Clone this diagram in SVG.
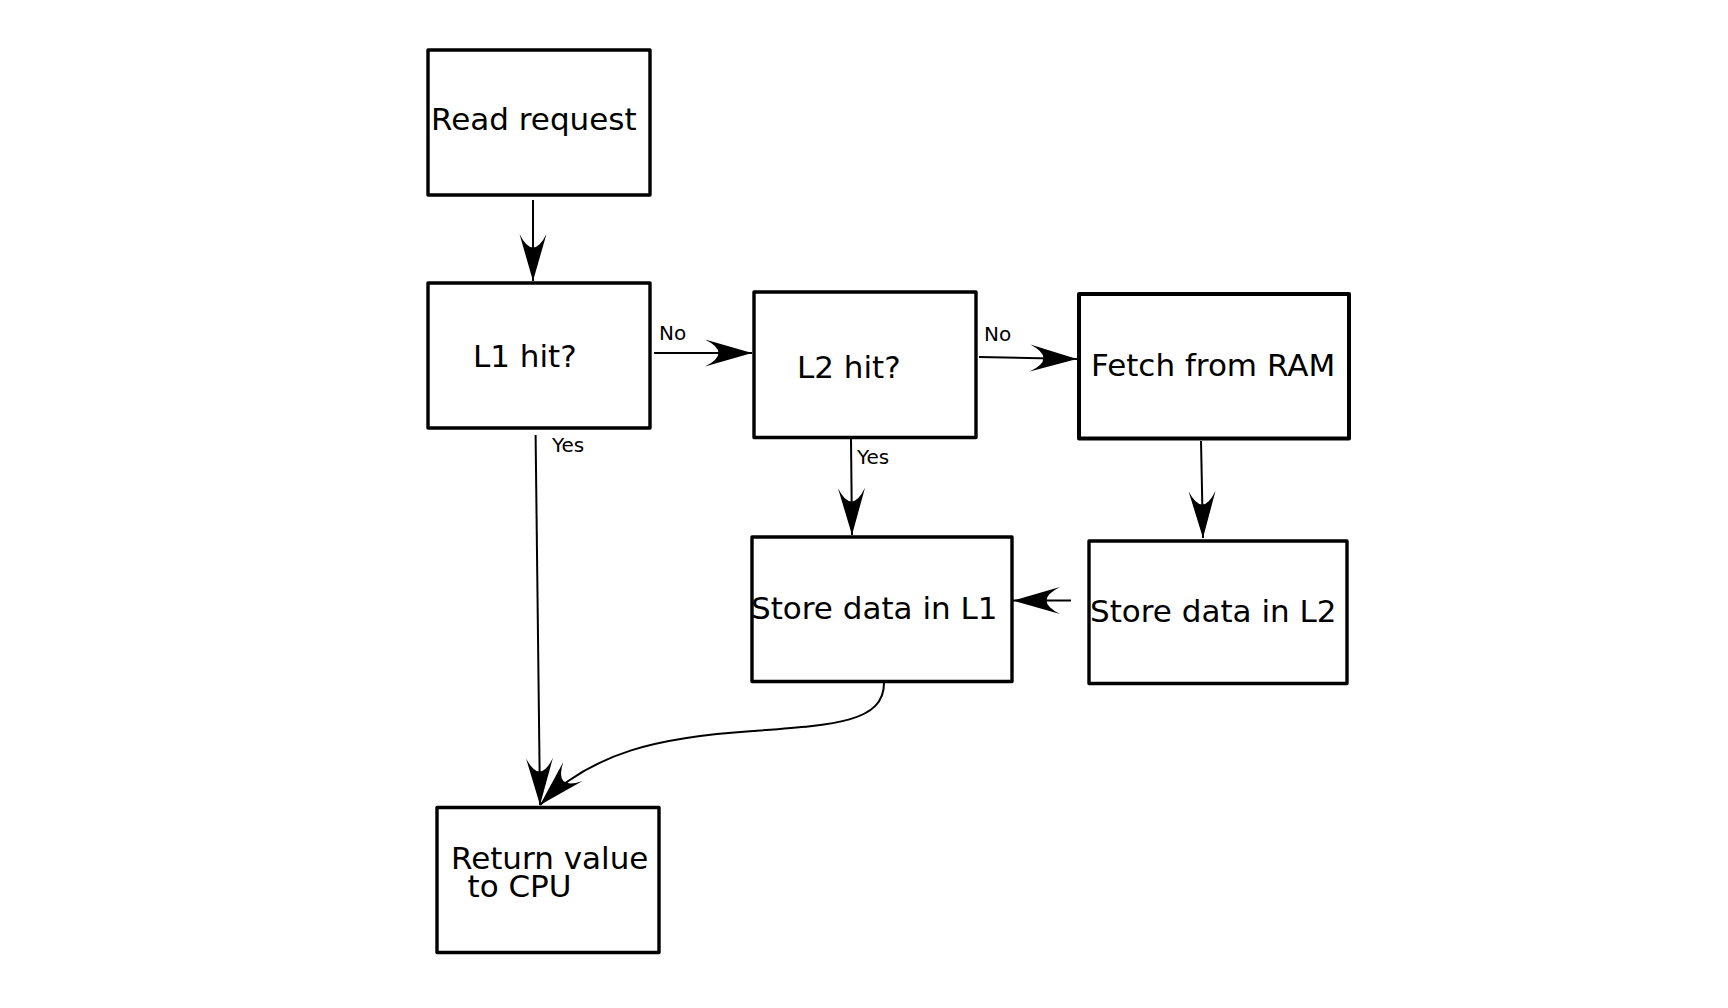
<svg xmlns="http://www.w3.org/2000/svg" width="1728" height="1008" viewBox="0 0 1728 1008">
<defs>
<style>
.box{fill:#fff;stroke:#000;stroke-width:3.4;stroke-linejoin:round}
.t{font-family:"DejaVu Sans","Liberation Sans",sans-serif;font-size:31px;fill:#000}
.s{font-family:"DejaVu Sans","Liberation Sans",sans-serif;font-size:20px;fill:#000}
.c{fill:none;stroke:#000;stroke-width:2}
</style>
<marker id="ah" markerUnits="userSpaceOnUse" viewBox="-50 -16 52 32" markerWidth="52" markerHeight="32" refX="0" refY="0" orient="auto">
<path d="M0,0 L-47,-13.5 Q-20,0 -47,13.5 Z" fill="#000"/>
</marker>
</defs>
<rect width="1728" height="1008" fill="#fff"/>
<g id="connectors">
<path class="c" d="M533,200 L533,281" marker-end="url(#ah)"/>
<path class="c" d="M654,353 L752,353" marker-end="url(#ah)"/>
<path class="c" d="M979,357 L1077,359" marker-end="url(#ah)"/>
<path class="c" d="M535.6,435 L540,805" marker-end="url(#ah)"/>
<path class="c" d="M851,439 L852,535" marker-end="url(#ah)"/>
<path class="c" d="M1201,441 L1203,538" marker-end="url(#ah)"/>
<path class="c" d="M1071,600.6 L1013,600.6" marker-end="url(#ah)"/>
<path class="c" d="M884,683 C884,722 835,725 753,731 C660,737 592,752 540,805" marker-end="url(#ah)"/>
<text class="s" x="659" y="340">No</text>
<text class="s" x="984" y="340.5">No</text>
<text class="s" x="552" y="452">Yes</text>
<text class="s" x="857" y="464">Yes</text>
</g>
<g id="read-request">
<rect class="box" x="428" y="50" width="222" height="145"/>
<text class="t" x="431" y="129.5">Read request</text>
</g>
<g id="l1-hit">
<rect class="box" x="428" y="283" width="222" height="145"/>
<text class="t" x="473" y="367">L1 hit?</text>
</g>
<g id="l2-hit">
<rect class="box" x="754" y="292" width="222" height="145.5"/>
<text class="t" x="797" y="378">L2 hit?</text>
</g>
<g id="fetch-ram">
<rect class="box" x="1079" y="294" width="270" height="144.5" style="stroke-width:4"/>
<text class="t" x="1091" y="376">Fetch from RAM</text>
</g>
<g id="store-l2">
<rect class="box" x="1089" y="541" width="258" height="142.5"/>
<text class="t" x="1090" y="622">Store data in L2</text>
</g>
<g id="store-l1">
<rect class="box" x="752" y="537" width="260" height="144.5"/>
<text class="t" x="751" y="619">Store data in L1</text>
</g>
<g id="return-cpu">
<rect class="box" x="437" y="807.5" width="222" height="145"/>
<text class="t" x="451" y="869">Return value</text>
<text class="t" x="467.5" y="897">to CPU</text>
</g>
</svg>
